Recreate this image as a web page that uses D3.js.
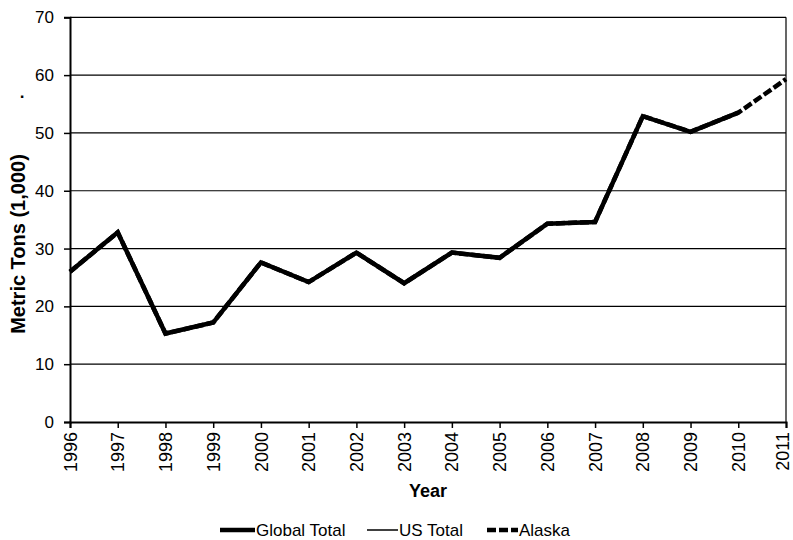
<!DOCTYPE html>
<html><head><meta charset="utf-8">
<script src="https://cdn.jsdelivr.net/npm/d3@7"></script>
<style>body{margin:0;background:#fff}svg{display:block;font-family:"Liberation Sans",Arial,sans-serif}</style>
</head><body><svg id="c" width="793" height="540"></svg>
<script>
const years = [1996,1997,1998,1999,2000,2001,2002,2003,2004,2005,2006,2007,2008,2009,2010,2011];
const globalTotal = [26.0,32.8,15.3,17.2,27.6,24.2,29.3,24.0,29.3,28.4,34.3,34.6,52.9,50.2,53.5];
const usTotal     = [26.0,32.8,15.3,17.2,27.6,24.2,29.3,24.0,29.3,28.4,34.3,34.6,52.9,50.2,53.5];
const alaska      = [26.0,32.8,15.3,17.2,27.6,24.2,29.3,24.0,29.3,28.4,34.3,34.6,52.9,50.2,53.5,59.3];
const yTicks = [0,10,20,30,40,50,60,70];
const seriesNames = ["Global Total","US Total","Alaska"];

const svg = d3.select("#c");
const FF = "Liberation Sans, Arial, sans-serif";
const L=70, R=786, T=17.3, B=422;
const x = d3.scaleLinear().domain([1996,2011]).range([L,R]);
const y = d3.scaleLinear().domain([0,70]).range([B,T]);

// gridlines
svg.append("g").selectAll("line").data(yTicks.filter(d=>d>0)).join("line")
  .attr("x1",L).attr("x2",R).attr("y1",d=>y(d)).attr("y2",d=>y(d))
  .attr("stroke","#000").attr("stroke-width",1.2);
// right border
svg.append("line").attr("x1",R).attr("x2",R).attr("y1",T).attr("y2",B).attr("stroke","#000").attr("stroke-width",1.2);

// y axis
const ya = svg.append("g").attr("transform",`translate(${L},0)`)
  .call(d3.axisLeft(y).tickValues(yTicks).tickSize(6).tickFormat(d3.format("d")));
ya.select(".domain").attr("stroke","#000").attr("stroke-width",2);
ya.selectAll(".tick line").attr("stroke","#000").attr("stroke-width",1.5);
ya.selectAll("text").attr("font-size",17).attr("fill","#000").attr("font-family",FF).attr("x",-16);

// x axis
const xa = svg.append("g").attr("transform",`translate(0,${B})`)
  .call(d3.axisBottom(x).tickValues(years).tickSize(6).tickFormat(d3.format("d")));
xa.select(".domain").attr("stroke","#000").attr("stroke-width",2);
xa.selectAll(".tick line").attr("stroke","#000").attr("stroke-width",1.5);
xa.selectAll("text").attr("font-size",18).attr("fill","#000").attr("font-family",FF)
  .attr("transform","rotate(-90)").attr("text-anchor","end").attr("x",-10)
  .attr("y",(d,i,n)=> i===n.length-1 ? -4 : 0).attr("dy","0.34em");

// lines
const line = d3.line().x((d,i)=>x(years[i])).y(d=>y(d));
svg.append("path").datum(globalTotal).attr("d",line).attr("fill","none").attr("stroke","#000").attr("stroke-width",4.5).attr("stroke-linejoin","miter");
svg.append("path").datum(usTotal).attr("d",line).attr("fill","none").attr("stroke","#000").attr("stroke-width",1.5);
svg.append("path").datum(alaska).attr("d",line).attr("fill","none").attr("stroke","#000").attr("stroke-width",4.5).attr("stroke-dasharray","9,3");

// axis titles
svg.append("text").attr("x",(L+R)/2).attr("y",497).attr("text-anchor","middle").attr("font-weight","bold").attr("font-size",18).attr("font-family",FF).text("Year");
svg.append("text").attr("transform","translate(25,244) rotate(-90)").attr("text-anchor","middle").attr("font-weight","bold").attr("font-size",20).attr("font-family",FF).text("Metric Tons (1,000)");
svg.append("text").attr("x",22).attr("y",98).attr("text-anchor","middle").attr("font-weight","bold").attr("font-size",17).attr("font-family",FF).text(".");

// legend
const leg = [{x:220,w:35,sw:4.5,dash:null},{x:367,w:31,sw:1.5,dash:null},{x:487,w:31,sw:4.5,dash:"9,3"}];
const ly = 530;
leg.forEach((l,i)=>{
  const ln = svg.append("line").attr("x1",l.x).attr("x2",l.x+l.w).attr("y1",ly).attr("y2",ly).attr("stroke","#000").attr("stroke-width",l.sw);
  if(l.dash) ln.attr("stroke-dasharray",l.dash);
  svg.append("text").attr("x",l.x+l.w+1).attr("y",ly).attr("dy","0.35em").attr("font-size",17).attr("font-family",FF).text(seriesNames[i]);
});
</script></body></html>
